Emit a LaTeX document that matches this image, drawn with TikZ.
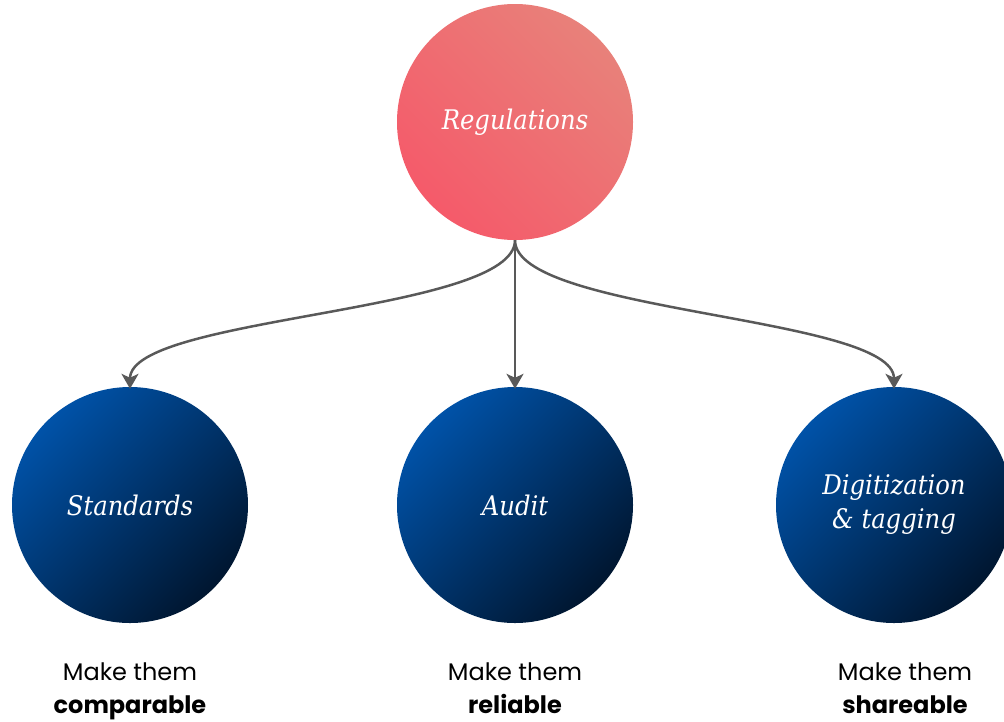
\documentclass[tikz,border=0pt]{standalone}
\usepackage{fontspec}
\usetikzlibrary{arrows.meta}
\newfontfamily\capfont{DejaVu Serif Condensed}
\newfontfamily\popfont{Poppins}
\definecolor{redlight}{HTML}{E8817A}
\definecolor{reddark}{HTML}{F55A6A}
\definecolor{bluelight}{HTML}{0052A8}
\definecolor{bluedark}{HTML}{001630}
\definecolor{linegray}{HTML}{595959}

\begin{document}
\begin{tikzpicture}[x=1pt, y=-1pt,
    ball/.style={circle, minimum size=236pt, inner sep=0pt, text=white,
      font=\capfont\itshape\fontsize{27}{34}\selectfont, align=center},
    redball/.style={ball, top color=redlight, bottom color=reddark, shading angle=-45},
    blueball/.style={ball, top color=bluelight, bottom color=bluedark, shading angle=45},
    note/.style={anchor=base, align=center, font=\popfont\fontsize{24}{33}\selectfont},
    link/.style={linegray, line width=2.5pt, -{Stealth[length=15pt, width=17pt, inset=4pt]}}]
    \useasboundingbox (0, 0) rectangle (1004, 721);
    \node[redball](reg) at (515, 122) {Regulations};
    \node[blueball](std) at (130, 505) {Standards};
    \node[blueball](aud) at (515, 505) {Audit};
    \node[blueball](dig) at (894, 505) {Digitization\\\& tagging};
    \node[note](stdtxt) at (130, 713) {Make them\\\textbf{comparable}};
    \node[note](audtxt) at (515, 713) {Make them\\\textbf{reliable}};
    \node[note](digtxt) at (905, 713) {Make them\\\textbf{shareable}};
    \draw[link] (reg.south) .. controls +(0, 73) and +(0, -73) .. ([yshift=-2pt]std.north);
    \draw[link] (reg.south) -- ([yshift=-2pt]aud.north);
    \draw[link] (reg.south) .. controls +(0, 73) and +(0, -73) .. ([yshift=-2pt]dig.north);
\end{tikzpicture}
\end{document}
